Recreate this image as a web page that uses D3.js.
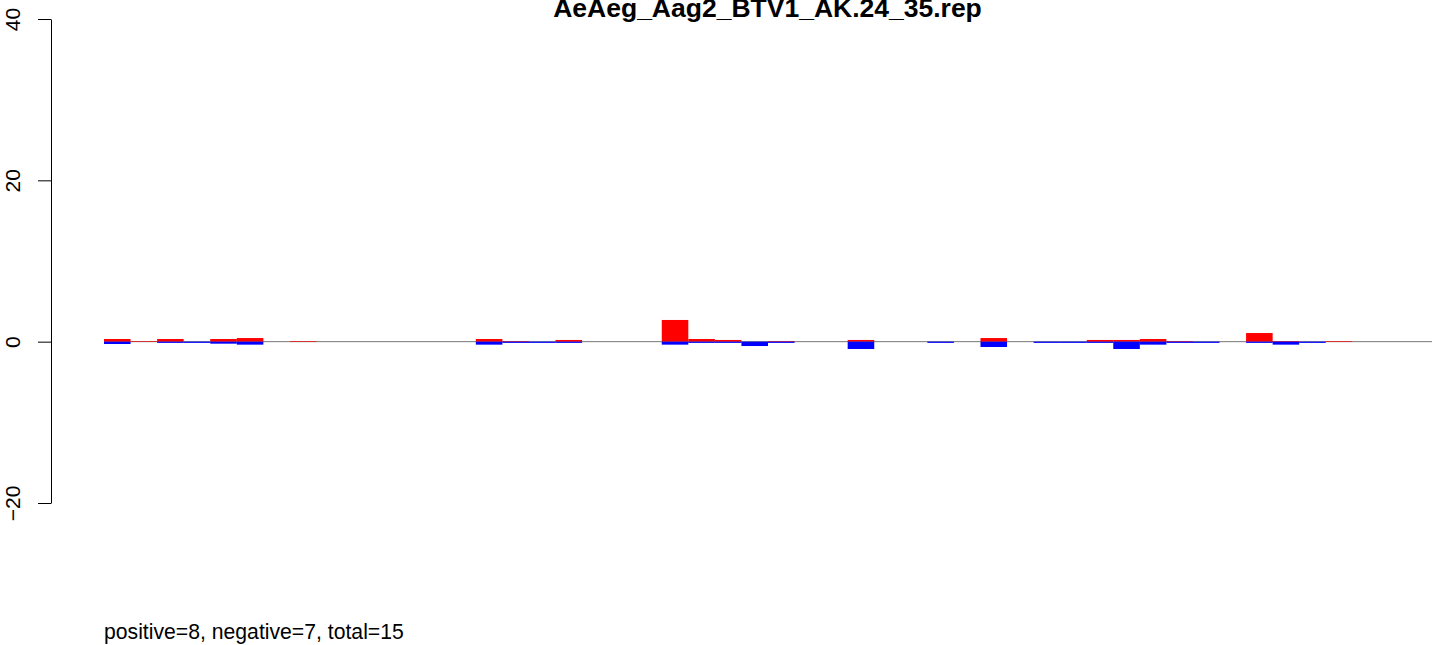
<!DOCTYPE html>
<html>
<head>
<meta charset="utf-8">
<script src="https://cdn.jsdelivr.net/npm/d3@7"></script>
<style>
  html, body { margin: 0; padding: 0; background: #fff; }
  svg { display: block; font-family: "Liberation Sans", Arial, Helvetica, sans-serif; }
</style>
</head>
<body>
<svg id="chart" width="1439" height="645"></svg>
<script>
// ---- data ----
const title = "AeAeg_Aag2_BTV1_AK.24_35.rep";
const footer = "positive=8, negative=7, total=15";
const yTicks = [-20, 0, 20, 40];
const positive = [
  0.33, 0.08, 0.33, 0, 0.33, 0.45, 0, 0.08, 0, 0,
  0, 0, 0, 0, 0.33, 0.08, 0, 0.21, 0, 0,
  0, 2.69, 0.33, 0.21, 0, 0.08, 0, 0, 0.21, 0,
  0, 0, 0, 0.45, 0, 0, 0, 0.21, 0.21, 0.33,
  0.08, 0, 0, 1.07, 0.08, 0, 0.08, 0, 0, 0
];
const negative = [
  0.29, 0, 0.15, 0.15, 0.25, 0.37, 0, 0, 0, 0,
  0, 0, 0, 0, 0.37, 0.15, 0.15, 0.15, 0, 0,
  0, 0.37, 0.15, 0.15, 0.54, 0.15, 0, 0, 0.91, 0,
  0, 0.15, 0, 0.66, 0, 0.15, 0.15, 0.15, 0.91, 0.37,
  0.15, 0.15, 0, 0.15, 0.37, 0.15, 0, 0, 0, 0
];

// ---- drawing ----
const svg = d3.select("#chart");
const idx = d3.range(positive.length);

const x = d3.scaleBand().domain(idx).range([104, 1432]).padding(0);
const y = d3.scaleLinear().domain([-20, 40]).range([503, 19]);

// zero line
svg.append("line")
  .attr("x1", x.range()[0]).attr("x2", x.range()[1])
  .attr("y1", y(0)).attr("y2", y(0))
  .attr("stroke", "#777").attr("stroke-width", 1);

// positive bars (red)
svg.append("g").selectAll("rect")
  .data(idx.filter(i => positive[i] > 0))
  .join("rect")
  .attr("x", i => x(i))
  .attr("width", x.bandwidth())
  .attr("y", i => y(positive[i]))
  .attr("height", i => y(0) - y(positive[i]))
  .attr("fill", "#ff0000");

// negative bars (blue)
svg.append("g").selectAll("rect")
  .data(idx.filter(i => negative[i] > 0))
  .join("rect")
  .attr("x", i => x(i))
  .attr("width", x.bandwidth())
  .attr("y", y(0))
  .attr("height", i => y(-negative[i]) - y(0))
  .attr("fill", "#0000ff");

// y axis
const axisG = svg.append("g")
  .attr("transform", "translate(51,0)")
  .call(d3.axisLeft(y).tickValues(yTicks).tickSize(13).tickSizeOuter(0).tickFormat(d => d < 0 ? "\u2212" + Math.abs(d) : d));
axisG.select(".domain").attr("stroke", "#000").attr("stroke-width", 1);
axisG.selectAll(".tick line").attr("stroke", "#000").attr("stroke-width", 1);
axisG.selectAll(".tick text")
  .attr("x", 0).attr("y", 0).attr("dy", null)
  .attr("transform", "translate(-31,0) rotate(-90)")
  .attr("text-anchor", "middle")
  .attr("font-size", "21px")
  .attr("font-family", "'Liberation Sans', Arial, sans-serif")
  .attr("fill", "#000");

// title
svg.append("text")
  .attr("x", 767.5).attr("y", 17)
  .attr("text-anchor", "middle")
  .attr("font-weight", "bold")
  .attr("font-size", "26.5px")
  .attr("fill", "#000")
  .text(title);

// footer
svg.append("text")
  .attr("x", 104).attr("y", 639)
  .attr("font-size", "21.2px")
  .attr("fill", "#000")
  .text(footer);
</script>
</body>
</html>
